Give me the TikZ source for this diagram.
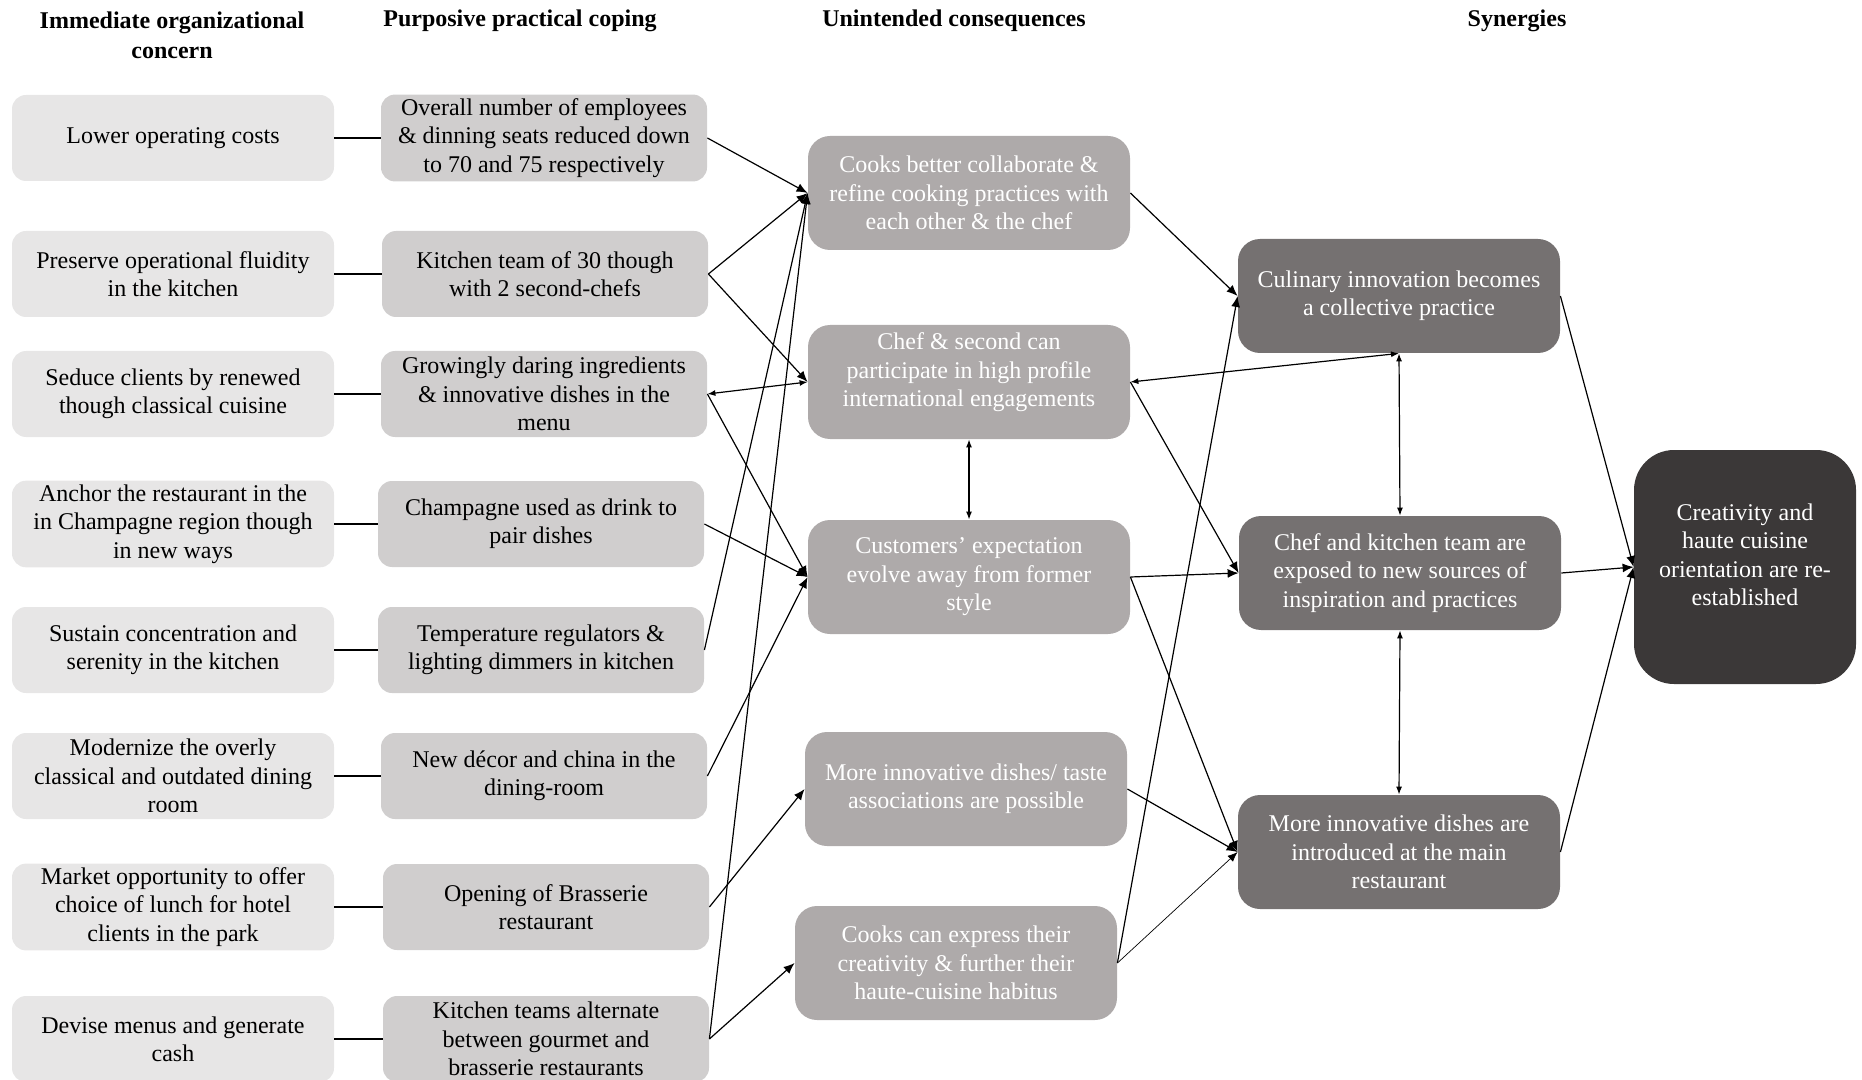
\documentclass[tikz,border=0pt]{standalone}
\usepackage{fontspec}
\setmainfont{Liberation Serif}
\usetikzlibrary{arrows.meta}
\definecolor{gsoft}{HTML}{E7E6E6}
\definecolor{gpale}{HTML}{D0CECE}
\definecolor{gmid}{HTML}{AEAAAA}
\definecolor{gdark}{HTML}{757171}
\definecolor{gdeep}{HTML}{3B3838}
\tikzset{
  >=Latex,
  font=\fontsize{12}{14.2}\selectfont,
  tile/.style={
    fill=#1, draw=none, rounded corners=7pt, align=center,
    inner sep=2pt, minimum width=161pt, minimum height=43pt
  },
  tile/.default=gsoft,
  coping/.style={tile=gpale, minimum width=163pt},
  conseq/.style={
    fill=#1, draw=none, rounded corners=11pt, align=center, text=white,
    inner sep=2pt, minimum width=161pt, minimum height=57pt
  },
  conseq/.default=gmid,
  head/.style={font=\fontsize{12}{14.8}\selectfont\bfseries, align=center},
  tie/.style={line width=0.8pt},
  arr/.style={-{Latex[length=5.5pt,width=4.5pt]}, line width=0.6pt},
  dbl/.style={{Latex[length=4pt,width=3pt]}-{Latex[length=4pt,width=3pt]}, line width=0.6pt},
  thinarr/.style={-{Latex[length=5pt,width=4pt]}, line width=0.35pt}
}

\begin{document}
\begin{tikzpicture}[x=0.5pt,y=-0.5pt]
  \useasboundingbox (0,0) rectangle (1862,1080);
  % column heads
  \node[head] (h1) at (172,35) {Immediate organizational\\concern};
  \node[head] (h2) at (520,21) {Purposive practical coping};
  \node[head] (h3) at (954,21) {Unintended consequences};
  \node[head] (h4) at (1517,21) {Synergies};

  % immediate concerns
  \node[tile] (a1) at (173,138) {Lower operating costs};
  \node[tile] (a2) at (173,274) {Preserve operational fluidity\\in the kitchen};
  \node[tile] (a3) at (173,394) {Seduce clients by renewed\\though classical cuisine};
  \node[tile] (a4) at (173,524) {Anchor the restaurant in the\\in Champagne region though\\in new ways};
  \node[tile] (a5) at (173,650) {Sustain concentration and\\serenity in the kitchen};
  \node[tile] (a6) at (173,776) {Modernize the overly\\classical and outdated dining\\room};
  \node[tile] (a7) at (173,907) {Market opportunity to offer\\choice of lunch for hotel\\clients in the park};
  \node[tile] (a8) at (173,1039) {Devise menus and generate\\cash};

  % practical coping
  \node[coping] (p1) at (544,138) {Overall number of employees\\\& dinning seats reduced down\\to 70 and 75 respectively};
  \node[coping] (p2) at (545,274) {Kitchen team of 30 though\\with 2 second-chefs};
  \node[coping] (p3) at (544,394) {Growingly daring ingredients\\\& innovative dishes in the\\menu};
  \node[coping] (p4) at (541,524) {Champagne used as drink to\\pair dishes};
  \node[coping] (p5) at (541,650) {Temperature regulators \&\\lighting dimmers in kitchen};
  \node[coping] (p6) at (544,776) {New décor and china in the\\dining-room};
  \node[coping] (p7) at (546,907) {Opening of Brasserie\\restaurant};
  \node[coping] (p8) at (546,1039) {Kitchen teams alternate\\between gourmet and\\brasserie restaurants};

  \foreach \i in {1,...,8}
    \draw[tie] (a\i) -- (a\i -| p\i.west);

  % unintended consequences
  \node[conseq] (c1) at (969,193) {Cooks better collaborate \&\\refine cooking practices with\\each other \& the chef};
  \node[conseq] (c2) at (969,382) {Chef \& second can\\participate in high profile\\international engagements\\[-2pt]{}};
  \node[conseq] (c3) at (969,577) {Customers' expectation\\evolve away from former\\style};
  \node[conseq] (c4) at (966,789) {More innovative dishes/ taste\\associations are possible};
  \node[conseq] (c5) at (956,963) {Cooks can express their\\creativity \& further their\\haute-cuisine habitus};

  % synergies
  \node[conseq=gdark] (s1) at (1399,296) {Culinary innovation becomes\\a collective practice};
  \node[conseq=gdark] (s2) at (1400,573) {Chef and kitchen team are\\exposed to new sources of\\inspiration and practices};
  \node[conseq=gdark] (s3) at (1399,852) {More innovative dishes are\\introduced at the main\\restaurant};
  \node[conseq=gdeep, rounded corners=20pt, minimum width=111pt, minimum height=117pt] (fin) at (1745,567)
    {Creativity and\\haute cuisine\\orientation are re-\\established\\[-2pt]{}};

  % links
  \foreach \src/\dst in {p1/c1, p2/c1, p2/c2, p3/c3, p4/c3, p5/c1, p6/c3, p7/c4, p8/c1, p8/c5,
                         c1/s1, c2/s2, c3/s2, c3/s3, c4/s3, c5/s1, s1/fin, s2/fin, s3/fin}
    \draw[arr] (\src.east) -- (\dst.west);
  \draw[thinarr] (c5.east) -- (s3.west);
  \draw[dbl] (p3.east) -- (c2.west);
  \draw[dbl] (c2.east) -- (s1.south);
  \draw[dbl] (c2.south) -- (c3.north);
  \draw[dbl] (s1.south) -- (s2.north);
  \draw[dbl] (s2.south) -- (s3.north);
\end{tikzpicture}
\end{document}
